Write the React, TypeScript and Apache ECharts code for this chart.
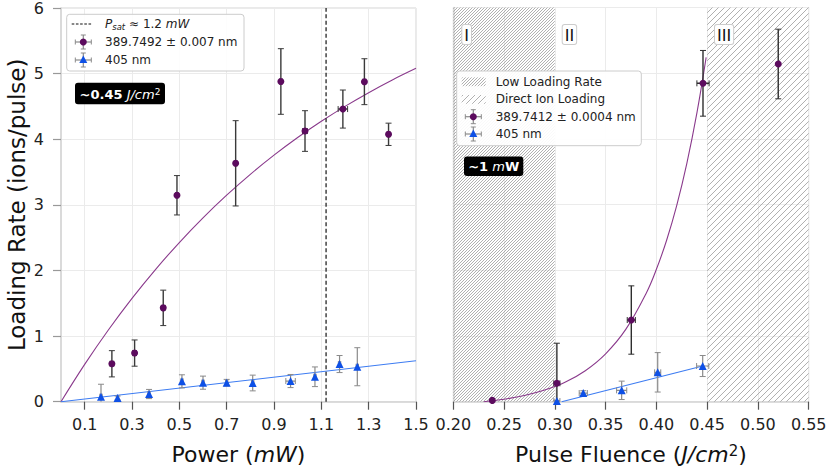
import React, { useEffect, useRef } from "react";
import * as echarts from "echarts";

// ---------- data ----------
const leftXTicks = [0.1, 0.3, 0.5, 0.7, 0.9, 1.1, 1.3, 1.5];
const rightXTicks = [0.2, 0.25, 0.3, 0.35, 0.4, 0.45, 0.5, 0.55];
const yMax = 6;

// [power, rate, yerr, xerr]
const leftPurple = [
  [0.215, 0.578, 0.2, 0.008],
  [0.311, 0.741, 0.2, 0.008],
  [0.432, 1.43, 0.27, 0.008],
  [0.49, 3.146, 0.3, 0.006],
  [0.738, 3.633, 0.65, 0.006],
  [0.929, 4.88, 0.5, 0.006],
  [1.031, 4.125, 0.31, 0.01],
  [1.191, 4.46, 0.29, 0.02],
  [1.282, 4.877, 0.35, 0.006],
  [1.384, 4.075, 0.17, 0.006],
];
const leftBlue = [
  [0.169, 0.076, 0.19, 0.005],
  [0.239, 0.056, 0.03, 0.005],
  [0.372, 0.117, 0.07, 0.005],
  [0.511, 0.31, 0.1, 0.005],
  [0.6, 0.29, 0.1, 0.005],
  [0.7, 0.29, 0.05, 0.005],
  [0.81, 0.285, 0.12, 0.005],
  [0.97, 0.315, 0.1, 0.02],
  [1.073, 0.38, 0.15, 0.005],
  [1.177, 0.574, 0.13, 0.005],
  [1.252, 0.533, 0.29, 0.005],
];
const leftPurpleFit = [
  [0, 0], [0.1, 0.569], [0.2, 1.093], [0.3, 1.575], [0.4, 2.018], [0.5, 2.426],
  [0.6, 2.802], [0.7, 3.147], [0.8, 3.465], [0.9, 3.757], [1.0, 4.026],
  [1.1, 4.273], [1.2, 4.501], [1.3, 4.71], [1.4, 4.903], [1.5, 5.08],
];
const leftBlueFit = [[0, 0], [1.5, 0.624]];
const pSatLine = [[1.12, 0], [1.12, 6]];

// [fluence, rate, yerr, xerr]
const rightPurple = [
  [0.2384, 0.02, 0.0, 0.0],
  [0.302, 0.28, 0.61, 0.003],
  [0.3753, 1.243, 0.52, 0.004],
  [0.4459, 4.846, 0.5, 0.006],
  [0.52, 5.14, 0.53, 0.0],
];
const rightBlue = [
  [0.302, 0.01, 0.01, 0.003],
  [0.328, 0.132, 0.035, 0.004],
  [0.3658, 0.173, 0.14, 0.005],
  [0.4013, 0.447, 0.3, 0.003],
  [0.4456, 0.543, 0.16, 0.006],
];
const rightPurpleFit = [
  [0.23, 0], [0.25, 0.038], [0.27, 0.094], [0.29, 0.177], [0.31, 0.296],
  [0.33, 0.472], [0.35, 0.729], [0.37, 1.104], [0.39, 1.652], [0.4, 2.015],
  [0.41, 2.454], [0.42, 2.985], [0.43, 3.627], [0.44, 4.403], [0.449, 5.24],
];
const rightBlueFit = [[0.3067, 0], [0.4456, 0.543]];
const regions = [[0.2, 0.3], [0.45, 0.55]];

// ---------- styles ----------
const FONT = "DejaVu Sans";
const PURPLE = "#5c0b5e";
const PURPLE_LINE = "#8a3a8c";
const BLUE = "#0e50e6";
const BLUE_LINE = "#3d7cf2";
const HATCH = "#9c9c9c";

function hatchLines(L: number, T: number, R: number, B: number, step: number, color: string, width: number) {
  const out: any[] = [];
  let c = Math.ceil((L + T) / step) * step;
  for (; c <= R + B; c += step) {
    const xa = Math.max(L, c - B);
    const xb = Math.min(R, c - T);
    if (xb <= xa) continue;
    out.push({
      type: "line",
      silent: true,
      shape: { x1: xa, y1: c - xa, x2: xb, y2: c - xb },
      style: { stroke: color, lineWidth: width },
    });
  }
  return out;
}

function errItem(color: string, lw: number) {
  return (params: any, api: any) => {
    const x = api.value(0), y = api.value(1), ye = api.value(2), xe = api.value(3);
    const lo = Math.max(0, y - ye);
    const pt = api.coord([x, y + ye]);
    const pb = api.coord([x, lo]);
    const pl = api.coord([x - xe, y]);
    const pr = api.coord([x + xe, y]);
    const c = 3;
    const st = { stroke: color, lineWidth: lw };
    const cs = { stroke: color, lineWidth: 1 };
    const ch: any[] = [];
    if (ye > 0) {
      ch.push({ type: "line", shape: { x1: pt[0], y1: pt[1], x2: pb[0], y2: pb[1] }, style: st });
      ch.push({ type: "line", shape: { x1: pt[0] - c, y1: pt[1], x2: pt[0] + c, y2: pt[1] }, style: cs });
      if (y - ye >= 0)
        ch.push({ type: "line", shape: { x1: pb[0] - c, y1: pb[1], x2: pb[0] + c, y2: pb[1] }, style: cs });
    }
    if (xe > 0) {
      ch.push({ type: "line", shape: { x1: pl[0], y1: pl[1], x2: pr[0], y2: pr[1] }, style: st });
      ch.push({ type: "line", shape: { x1: pl[0], y1: pl[1] - c, x2: pl[0], y2: pl[1] + c }, style: cs });
      ch.push({ type: "line", shape: { x1: pr[0], y1: pr[1] - c, x2: pr[0], y2: pr[1] + c }, style: cs });
    }
    return { type: "group", children: ch };
  };
}

function errIcon(cx: number, cy: number, fill: string, symbol: "circle" | "triangle") {
  const g = "#8a8a8a";
  const els: any[] = [
    { type: "line", z: 21, shape: { x1: cx, y1: cy - 7, x2: cx, y2: cy + 7 }, style: { stroke: g, lineWidth: 1.2 } },
    { type: "line", z: 21, shape: { x1: cx - 8, y1: cy, x2: cx + 8, y2: cy }, style: { stroke: g, lineWidth: 1.2 } },
    { type: "line", z: 21, shape: { x1: cx - 2.5, y1: cy - 7, x2: cx + 2.5, y2: cy - 7 }, style: { stroke: g, lineWidth: 1 } },
    { type: "line", z: 21, shape: { x1: cx - 2.5, y1: cy + 7, x2: cx + 2.5, y2: cy + 7 }, style: { stroke: g, lineWidth: 1 } },
    { type: "line", z: 21, shape: { x1: cx - 8, y1: cy - 2.5, x2: cx - 8, y2: cy + 2.5 }, style: { stroke: g, lineWidth: 1 } },
    { type: "line", z: 21, shape: { x1: cx + 8, y1: cy - 2.5, x2: cx + 8, y2: cy + 2.5 }, style: { stroke: g, lineWidth: 1 } },
  ];
  if (symbol === "circle") {
    els.push({ type: "circle", z: 22, shape: { cx, cy, r: 3.5 }, style: { fill } });
  } else {
    els.push({ type: "polygon", z: 22, shape: { points: [[cx, cy - 4.5], [cx - 4, cy + 3], [cx + 4, cy + 3]] }, style: { fill } });
  }
  return els;
}

function legendText(x: number, y: number, text: string, rich?: any) {
  return {
    type: "text",
    z: 22,
    x,
    y,
    style: {
      text,
      fontFamily: FONT,
      fontSize: 12,
      fill: "#222",
      verticalAlign: "middle",
      align: "left",
      rich,
    },
  };
}

const axisCommon = {
  axisLine: { show: true, lineStyle: { color: "#d4d4d4", width: 1.5 } },
  splitLine: { show: true, lineStyle: { color: "#ebebeb", width: 1 } },
};

export default function App() {
  const ref = useRef<HTMLDivElement>(null);

  useEffect(() => {
    document.body.style.margin = "0";
    if (!ref.current) return;
    const chart = echarts.init(ref.current, undefined, { renderer: "svg" });

    const graphics: any[] = [];
    // Left legend
    graphics.push({
      type: "rect", z: 20,
      shape: { x: 66.7, y: 14.3, width: 177.3, height: 56.7, r: 3 },
      style: { fill: "rgba(255,255,255,0.9)", stroke: "#cccccc", lineWidth: 1 },
    });
    graphics.push({
      type: "line", z: 21,
      shape: { x1: 71.7, y1: 24, x2: 92, y2: 24 },
      style: { stroke: "#111", lineWidth: 1.2, lineDash: [2.6, 1.6] },
    });
    graphics.push(
      legendText(105, 24, "{i|P}{sub|sat} ≈ 1.2 {i|mW}", {
        i: { fontStyle: "italic", fontFamily: FONT, fontSize: 12, fill: "#222" },
        sub: { fontStyle: "italic", fontFamily: FONT, fontSize: 8.5, fill: "#222", verticalAlign: "bottom", padding: [6, 0, 0, 0] },
      })
    );
    graphics.push(...errIcon(83.3, 42, PURPLE, "circle"));
    graphics.push(legendText(105, 42, "389.7492 ± 0.007 nm"));
    graphics.push(...errIcon(83.3, 60, BLUE, "triangle"));
    graphics.push(legendText(105, 60, "405 nm"));

    // Left annotation
    graphics.push({
      type: "rect", z: 20,
      shape: { x: 75, y: 82.7, width: 90, height: 21.6, r: 3 },
      style: { fill: "#000" },
    });
    graphics.push({
      type: "text", z: 21, x: 120, y: 94,
      style: {
        text: "{b|~0.45} {i|J/cm}{s|2}",
        fontFamily: FONT, fontSize: 13, fill: "#fff", align: "center", verticalAlign: "middle",
        rich: {
          b: { fontWeight: "bold", fontFamily: FONT, fontSize: 13, fill: "#fff" },
          i: { fontStyle: "italic", fontFamily: FONT, fontSize: 13, fill: "#fff" },
          s: { fontFamily: FONT, fontSize: 9, fill: "#fff", verticalAlign: "top" },
        },
      },
    });

    // Right legend
    graphics.push({
      type: "rect", z: 20,
      shape: { x: 456.7, y: 71, width: 184.6, height: 74.7, r: 3 },
      style: { fill: "rgba(255,255,255,0.92)", stroke: "#cccccc", lineWidth: 1 },
    });
    graphics.push(...hatchLines(461.7, 77.4, 485.7, 86.2, 3, HATCH, 0.8).map((e) => ({ ...e, z: 21 })));
    graphics.push(...hatchLines(461.7, 95, 485.7, 103.8, 6, HATCH, 0.8).map((e) => ({ ...e, z: 21 })));
    graphics.push(legendText(495.7, 81.7, "Low Loading Rate"));
    graphics.push(legendText(495.7, 99.3, "Direct Ion Loading"));
    graphics.push(...errIcon(473.3, 116.7, PURPLE, "circle"));
    graphics.push(legendText(495.7, 116.7, "389.7412 ± 0.0004 nm"));
    graphics.push(...errIcon(473.3, 134, BLUE, "triangle"));
    graphics.push(legendText(495.7, 134, "405 nm"));

    // Right annotation
    graphics.push({
      type: "rect", z: 20,
      shape: { x: 464, y: 156.5, width: 59.3, height: 19.5, r: 3 },
      style: { fill: "#000" },
    });
    graphics.push({
      type: "text", z: 21, x: 493.7, y: 166.5,
      style: {
        text: "{b|~1} {i|m}{b|W}",
        fontFamily: FONT, fontSize: 13, fill: "#fff", align: "center", verticalAlign: "middle",
        rich: {
          b: { fontWeight: "bold", fontFamily: FONT, fontSize: 13, fill: "#fff" },
          i: { fontStyle: "italic", fontFamily: FONT, fontSize: 13, fill: "#fff" },
        },
      },
    });

    // Region labels
    const regLabels: [number, string][] = [[462.3, "I"], [562.7, "II"], [715, "III"]];
    regLabels.forEach(([x, t]) => {
      graphics.push({
        type: "text", z: 21, x, y: 25,
        style: {
          text: t, fontFamily: FONT, fontSize: 16, fill: "#111",
          backgroundColor: "#fff", borderColor: "#cccccc", borderWidth: 1, borderRadius: 2,
          padding: [2, 2, 1, 2], align: "left", verticalAlign: "top",
        },
      });
    });

    const option: any = {
      animation: false,
      backgroundColor: "#fff",
      textStyle: { fontFamily: FONT },
      grid: [
        { left: 61, top: 7.5, width: 355, height: 394.2, show: true, borderColor: "#d4d4d4", borderWidth: 1, containLabel: false },
        { left: 453.3, top: 7.5, width: 355.4, height: 394.2, show: true, borderColor: "#d4d4d4", borderWidth: 1, containLabel: false },
      ],
      xAxis: [
        {
          type: "value", gridIndex: 0, min: 0, max: 1.5,
          name: "Power ({i|mW})", nameLocation: "middle", nameGap: 42,
          nameTextStyle: { fontFamily: FONT, fontSize: 22, color: "#111", rich: { i: { fontStyle: "italic", fontFamily: FONT, fontSize: 22, color: "#111" } } },
          ...axisCommon,
          axisTick: { show: true, length: 8, lineStyle: { color: "#555", width: 1.2 }, customValues: leftXTicks },
          axisLabel: { fontFamily: FONT, fontSize: 16, color: "#222", margin: 15, customValues: leftXTicks, formatter: (v: number) => v.toFixed(1) },
        },
        {
          type: "value", gridIndex: 1, min: 0.2, max: 0.55, interval: 0.05,
          name: "Pulse Fluence ({i|J/cm}{s|2})", nameLocation: "middle", nameGap: 42,
          nameTextStyle: {
            fontFamily: FONT, fontSize: 22, color: "#111",
            rich: {
              i: { fontStyle: "italic", fontFamily: FONT, fontSize: 22, color: "#111" },
              s: { fontFamily: FONT, fontSize: 15, color: "#111", verticalAlign: "top" },
            },
          },
          ...axisCommon,
          axisTick: { show: true, length: 8, lineStyle: { color: "#555", width: 1.2 } },
          axisLabel: { fontFamily: FONT, fontSize: 16, color: "#222", margin: 15, formatter: (v: number) => v.toFixed(2), customValues: rightXTicks },
        },
      ],
      yAxis: [
        {
          type: "value", gridIndex: 0, min: 0, max: yMax, interval: 1,
          name: "Loading Rate (ions/pulse)", nameLocation: "middle", nameGap: 33,
          nameTextStyle: { fontFamily: FONT, fontSize: 23, color: "#111" },
          ...axisCommon,
          axisTick: { show: true, length: 8, lineStyle: { color: "#999", width: 1.2 } },
          axisLabel: { fontFamily: FONT, fontSize: 16, color: "#222", margin: 17 },
        },
        {
          type: "value", gridIndex: 1, min: 0, max: yMax, interval: 1,
          ...axisCommon,
          axisTick: { show: false },
          axisLabel: { show: false },
        },
      ],
      series: [
        // hatch regions
        {
          type: "custom", xAxisIndex: 1, yAxisIndex: 1, z: 1, silent: true,
          data: regions,
          encode: { x: [0, 1] },
          renderItem: (params: any, api: any) => {
            const tl = api.coord([api.value(0), yMax]);
            const br = api.coord([api.value(1), 0]);
            const step = params.dataIndex === 0 ? 3 : 6;
            return { type: "group", children: hatchLines(tl[0], tl[1], br[0], br[1], step, HATCH, 0.8) };
          },
        },
        // left fits
        {
          type: "line", xAxisIndex: 0, yAxisIndex: 0, data: leftPurpleFit, smooth: 0.4, symbol: "none", z: 2,
          lineStyle: { color: PURPLE_LINE, width: 1.1 },
        },
        {
          type: "line", xAxisIndex: 0, yAxisIndex: 0, data: leftBlueFit, symbol: "none", z: 2,
          lineStyle: { color: BLUE_LINE, width: 1.1 },
        },
        {
          type: "line", xAxisIndex: 0, yAxisIndex: 0, data: pSatLine, symbol: "none", z: 2,
          lineStyle: { color: "#111", width: 1.2, type: [4, 2.5] },
        },
        // left errorbars
        {
          type: "custom", xAxisIndex: 0, yAxisIndex: 0, z: 3, clip: true,
          data: leftPurple, encode: { x: 0, y: 1 }, renderItem: errItem("#3a3a3a", 1.4),
        },
        {
          type: "custom", xAxisIndex: 0, yAxisIndex: 0, z: 3, clip: true,
          data: leftBlue, encode: { x: 0, y: 1 }, renderItem: errItem("#8a8a8a", 1.2),
        },
        {
          type: "scatter", xAxisIndex: 0, yAxisIndex: 0, z: 4, symbol: "circle", symbolSize: 7,
          data: leftPurple.map((d) => [d[0], d[1]]), itemStyle: { color: PURPLE, opacity: 1 },
        },
        {
          type: "scatter", xAxisIndex: 0, yAxisIndex: 0, z: 4, symbol: "triangle", symbolSize: 8,
          data: leftBlue.map((d) => [d[0], d[1]]), itemStyle: { color: BLUE, opacity: 1 },
        },
        // right fits
        {
          type: "line", xAxisIndex: 1, yAxisIndex: 1, data: rightPurpleFit, smooth: 0.4, symbol: "none", z: 2,
          lineStyle: { color: PURPLE_LINE, width: 1.1 },
        },
        {
          type: "line", xAxisIndex: 1, yAxisIndex: 1, data: rightBlueFit, symbol: "none", z: 2,
          lineStyle: { color: BLUE_LINE, width: 1.1 },
        },
        {
          type: "custom", xAxisIndex: 1, yAxisIndex: 1, z: 3, clip: true,
          data: rightPurple, encode: { x: 0, y: 1 }, renderItem: errItem("#2e2e2e", 1.4),
        },
        {
          type: "custom", xAxisIndex: 1, yAxisIndex: 1, z: 3, clip: true,
          data: rightBlue, encode: { x: 0, y: 1 }, renderItem: errItem("#8a8a8a", 1.2),
        },
        {
          type: "scatter", xAxisIndex: 1, yAxisIndex: 1, z: 4, symbol: "circle", symbolSize: 7,
          data: rightPurple.map((d) => [d[0], d[1]]), itemStyle: { color: PURPLE, opacity: 1 },
        },
        {
          type: "scatter", xAxisIndex: 1, yAxisIndex: 1, z: 4, symbol: "triangle", symbolSize: 8,
          data: rightBlue.map((d) => [d[0], d[1]]), itemStyle: { color: BLUE, opacity: 1 },
        },
      ],
      graphic: graphics,
    };

    chart.setOption(option);
    return () => chart.dispose();
  }, []);

  return <div ref={ref} style={{ width: 830, height: 472 }} />;
}
